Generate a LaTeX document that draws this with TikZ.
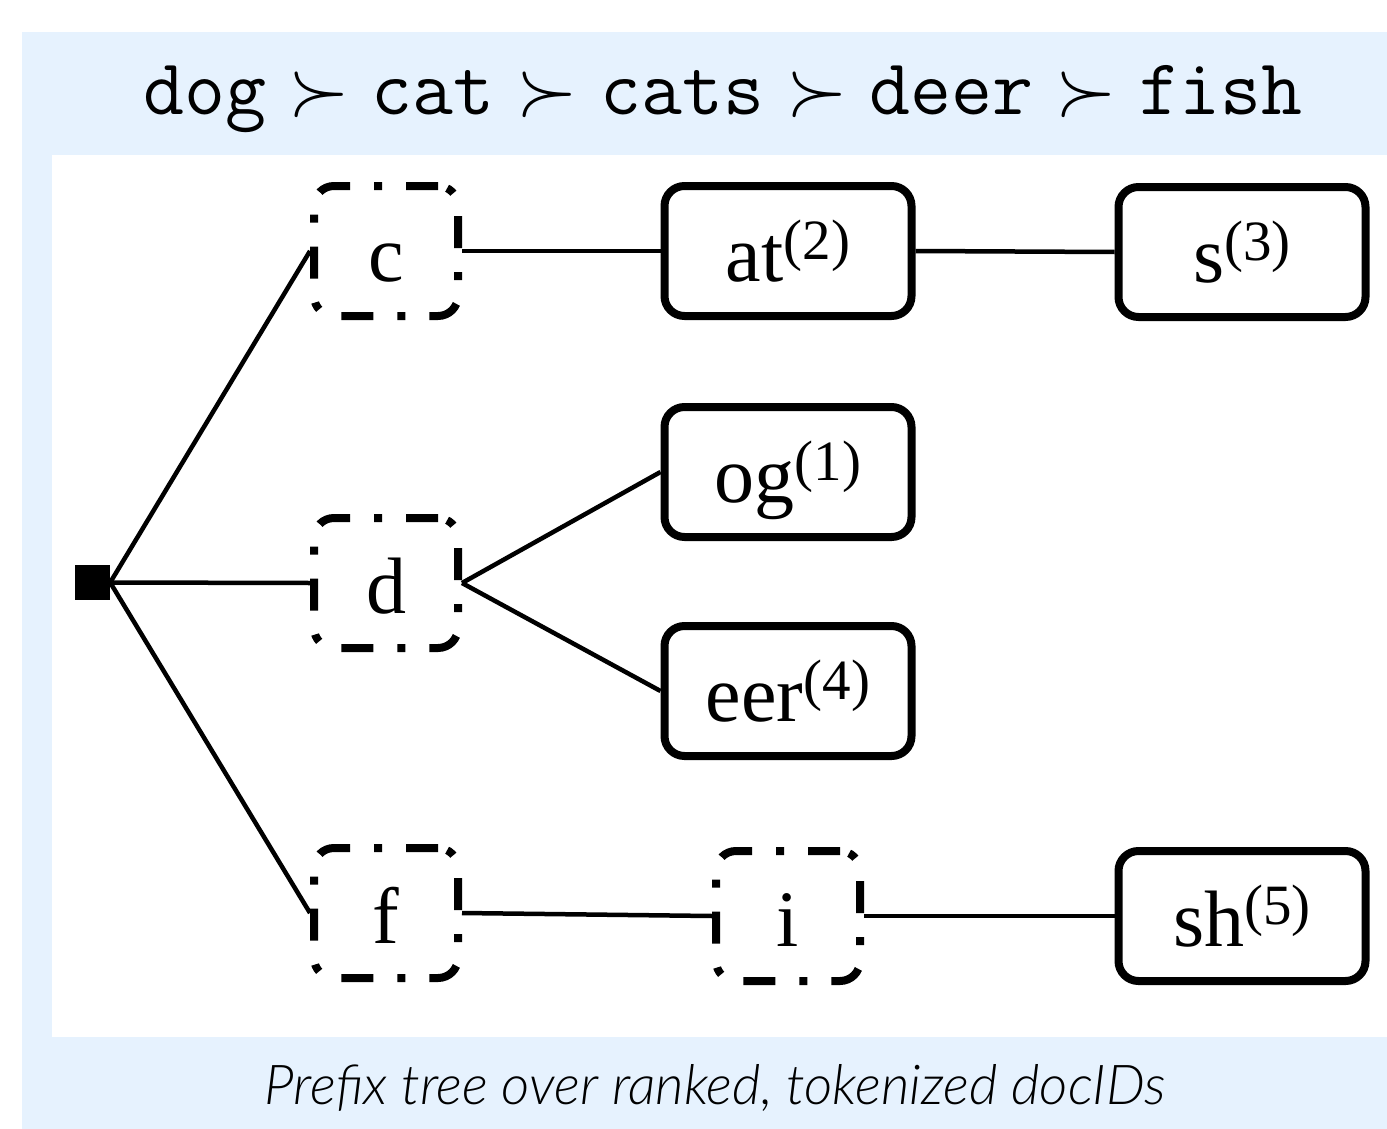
\documentclass[tikz,border=0pt]{standalone}
\usepackage{graphicx}
\usepackage{fontspec}
\setmainfont{Liberation Serif}
\newfontfamily\capfont{Lato}[UprightFont=* Light, ItalicFont=* Light Italic]
\definecolor{panelblue}{RGB}{230,242,254}
% relation sign between ranked documents, with thick math spacing
\newcommand\rankgt{\hspace{22.1pt}\scalebox{7.9}{\fontsize{10}{12}\selectfont$\succ$}\hspace{22.1pt}}
% document number set above the remaining suffix
\newcommand\docno[1]{\raisebox{22pt}{\fontsize{57}{60}\selectfont(#1)}}
\tikzset{
  x=1pt, y=-1pt,
  prefixbox/.style={draw, line width=8pt, rounded corners=20pt,
    dash pattern=on 32pt off 24pt on 8pt off 24pt,
    minimum width=144pt, minimum height=130pt, inner sep=0pt,
    text height=70pt, text depth=10pt, font=\fontsize{80}{90}\selectfont},
  leafbox/.style={draw, line width=8pt, rounded corners=20pt,
    minimum width=247pt, minimum height=130pt, inner sep=0pt,
    text height=70pt, text depth=10pt, font=\fontsize{80}{90}\selectfont},
  edge/.style={line width=4.5pt}
}
\begin{document}
\begin{tikzpicture}
\useasboundingbox (0,0) rectangle (1387,1129);
% panel background and white drawing area
\fill[panelblue] (22,32) rectangle (1387,1129);
\fill[white] (52,155) rectangle (1387,1037);

% ranking of the documents
\node[anchor=base, inner sep=0pt, font=\ttfamily\fontsize{79.5}{90}\selectfont] (rank) at (723,115)
  {dog\rankgt cat\rankgt cats\rankgt deer\rankgt fish};

% tree nodes
\node[fill, minimum size=35pt, inner sep=0pt] (root) at (92.5,582.5) {};
\node[prefixbox] (c) at (386,251) {c};
\node[prefixbox] (d) at (386,583) {d};
\node[prefixbox] (f) at (386,913) {f};
\node[prefixbox] (i) at (788,916) {i};
\node[leafbox] (at) at (788,251) {at\docno{2}};
\node[leafbox] (s) at (1242,252) {s\docno{3}};
\node[leafbox] (og) at (788,472) {og\docno{1}};
\node[leafbox] (eer) at (788,691) {eer\docno{4}};
\node[leafbox] (sh) at (1242,916) {sh\docno{5}};

% connectors
\draw[edge] (root.east) -- (c.west);
\draw[edge] (root.east) -- (d.west);
\draw[edge] (root.east) -- (f.west);
\draw[edge] (c.east) -- (at.west);
\draw[edge] (at.east) -- (s.west);
\draw[edge] (d.east) -- (og.west);
\draw[edge] (d.east) -- (eer.west);
\draw[edge] (f.east) -- (i.west);
\draw[edge] (i.east) -- (sh.west);

% caption
\node[anchor=base, inner sep=0pt, font=\capfont\itshape\fontsize{55}{66}\selectfont] (cap) at (715,1104)
  {Prefix tree over ranked, tokenized docIDs};
\end{tikzpicture}
\end{document}
